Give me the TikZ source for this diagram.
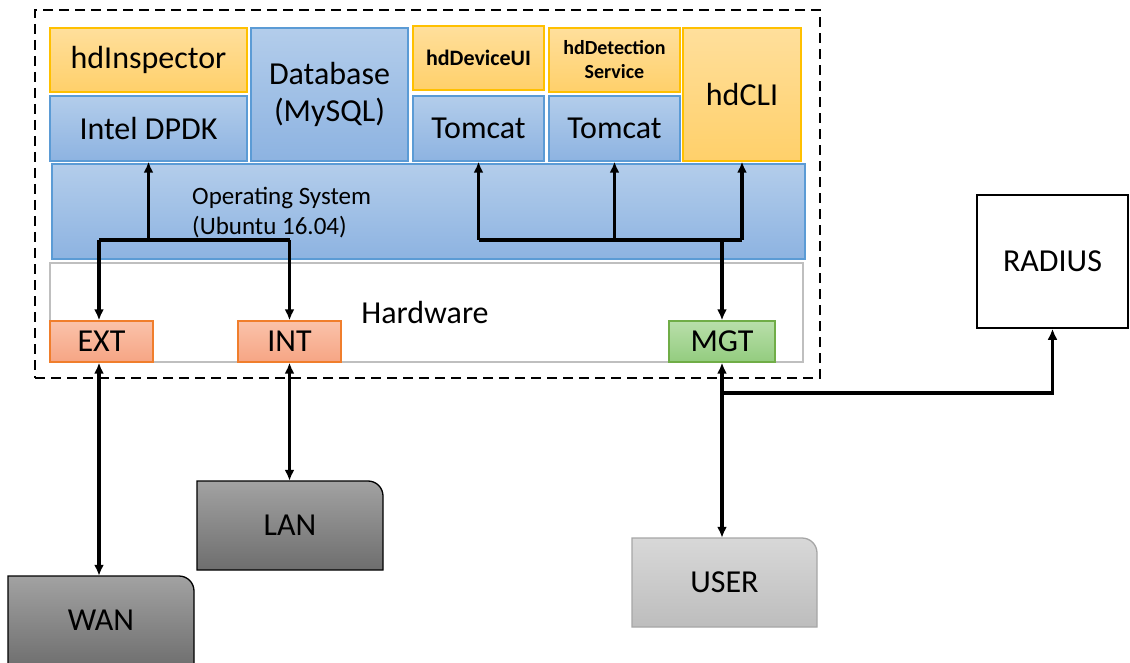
\documentclass[tikz,border=0pt]{standalone}
\usepackage{fontspec}
\setmainfont{Carlito}
\usetikzlibrary{arrows.meta,calc}
\definecolor{blueTop}{HTML}{B3CDEB}
\definecolor{blueBot}{HTML}{8DB3E1}
\definecolor{blueBd}{HTML}{5B9BD5}
\definecolor{yelTop}{HTML}{FFDF9C}
\definecolor{yelBot}{HTML}{FFD06A}
\definecolor{yelBd}{HTML}{FFC000}
\definecolor{orTop}{HTML}{FAC2AA}
\definecolor{orBot}{HTML}{F6A584}
\definecolor{orBd}{HTML}{F07E2C}
\definecolor{grTop}{HTML}{B9DFAA}
\definecolor{grBot}{HTML}{93CC7F}
\definecolor{grBd}{HTML}{70AD47}
\definecolor{dkTop}{HTML}{A2A2A2}
\definecolor{dkBot}{HTML}{6E6E6E}
\definecolor{ltTop}{HTML}{D8D8D8}
\definecolor{ltBot}{HTML}{BDBDBD}
\definecolor{ltBd}{HTML}{A6A6A6}
\definecolor{hwBd}{HTML}{BFBFBF}
\tikzset{
  x=1pt, y=1pt,
  box/.style={inner sep=0pt, line width=1.3pt, align=center, font=\fontsize{32}{37}\selectfont},
  bluebox/.style={box, draw=blueBd, top color=blueTop, bottom color=blueBot},
  yelbox/.style={box, draw=yelBd, top color=yelTop, bottom color=yelBot},
  orbox/.style={box, draw=orBd, top color=orTop, bottom color=orBot},
  grbox/.style={box, draw=grBd, top color=grTop, bottom color=grBot},
  smallbold/.style={font=\fontsize{22}{25}\selectfont\bfseries},
  lbl/.style={inner sep=0pt, align=center, font=\fontsize{32}{37}\selectfont},
  arr/.style={line width=3.4pt, -{Latex[length=11pt,width=10pt]}},
  arr2/.style={line width=3.4pt, {Latex[length=11pt,width=10pt]}-{Latex[length=11pt,width=10pt]}},
  ln/.style={line width=3.4pt},
}
\begin{document}
\begin{tikzpicture}
\useasboundingbox (0,0) rectangle (1130,-663);
% outer dashed system boundary
\node[draw, line width=1.6pt, dash pattern=on 10pt off 6pt, minimum width=785pt, minimum height=368pt, inner sep=0pt] (sys) at (427.5,-194) {};
% hardware
\node[box, draw=hwBd, fill=white, minimum width=753pt, minimum height=99pt] (hw) at (426.5,-312.5) {};
\node[lbl] (hwl) at (425,-313) {Hardware};
% operating system
\node[bluebox, minimum width=753pt, minimum height=95pt] (os) at (428.5,-211.5) {};
\node[lbl, anchor=west, align=left, font=\fontsize{25}{30}\selectfont] (osl) at (192,-213) {Operating System\\(Ubuntu 16.04)};
% top layer
\node[yelbox, minimum width=197pt, minimum height=64pt] (insp) at (148.5,-60) {hdInspector};
\node[bluebox, minimum width=197pt, minimum height=65pt] (dpdk) at (148.5,-128.5) {Intel DPDK};
\node[bluebox, minimum width=157pt, minimum height=133pt] (db) at (329.5,-94.5) {Database\\(MySQL)};
\node[yelbox, smallbold, minimum width=131pt, minimum height=64pt] (devui) at (478.5,-58) {hdDeviceUI};
\node[bluebox, minimum width=131pt, minimum height=65pt] (tc1) at (478.5,-128.5) {Tomcat};
\node[yelbox, font=\fontsize{20}{24}\selectfont\bfseries, minimum width=131pt, minimum height=64pt] (det) at (614.5,-60) {hdDetection\\Service};
\node[bluebox, minimum width=131pt, minimum height=65pt] (tc2) at (614.5,-128.5) {Tomcat};
\node[yelbox, minimum width=118pt, minimum height=133pt] (cli) at (742,-94.5) {hdCLI};
% ports
\node[orbox, minimum width=103pt, minimum height=41pt] (ext) at (101.5,-341.5) {EXT};
\node[orbox, minimum width=103pt, minimum height=41pt] (int) at (289.5,-341.5) {INT};
\node[grbox, minimum width=106pt, minimum height=41pt] (mgt) at (722,-341.5) {MGT};
% radius
\node[box, draw, line width=1.5pt, fill=white, minimum width=151pt, minimum height=133pt] (radius) at (1052.5,-261.5) {RADIUS};
% external networks (rounded top-right corner)
\shade[top color=dkTop, bottom color=dkBot, draw=black, line width=1.3pt]
  (197,-570) -- (197,-481) -- (368,-481) arc[start angle=90, end angle=0, radius=15] -- (383,-570) -- cycle;
\node[lbl, minimum width=186pt, minimum height=89pt] (lan) at (290,-525.5) {LAN};
\shade[top color=dkTop, bottom color=dkBot, draw=black, line width=1.3pt]
  (8,-668) -- (8,-576) -- (179,-576) arc[start angle=90, end angle=0, radius=15] -- (194,-668) -- cycle;
\node[lbl, minimum width=186pt, minimum height=88pt] (wan) at (101,-620) {WAN};
\shade[top color=ltTop, bottom color=ltBot, draw=ltBd, line width=1.3pt]
  (632,-627) -- (632,-538) -- (802,-538) arc[start angle=90, end angle=0, radius=15] -- (817,-627) -- cycle;
\node[lbl, minimum width=185pt, minimum height=89pt] (user) at (724.5,-582.5) {USER};
% junctions
\coordinate (jL) at (148.5,-240);
\coordinate (jLa) at (99,-240);
\coordinate (jLb) at (289.5,-240);
\coordinate (jR) at (722,-240);
\coordinate (jB) at (722,-393);
% data plane connectors
\draw[arr] (jL) -- (dpdk.south);
\draw[ln] (jLa) -- (jLb);
\draw[arr] (jLa) -- (jLa |- ext.north);
\draw[arr] (jLb) -- (int.north);
\draw[arr2] (jLa |- ext.south) -- (jLa |- wan.north);
\draw[arr2] (int.south) -- (int.south |- lan.north);
% management connectors
\draw[ln] (tc1.south |- jR) -- (cli.south |- jR);
\draw[arr] (tc1.south |- jR) -- (tc1.south);
\draw[arr] (tc2.south |- jR) -- (tc2.south);
\draw[arr] (cli.south |- jR) -- (cli.south);
\draw[arr] (jR) -- (mgt.north);
\draw[arr2] (mgt.south) -- (mgt.south |- user.north);
\draw[arr] (jB) -- (radius.south |- jB) -- (radius.south);
\end{tikzpicture}
\end{document}
